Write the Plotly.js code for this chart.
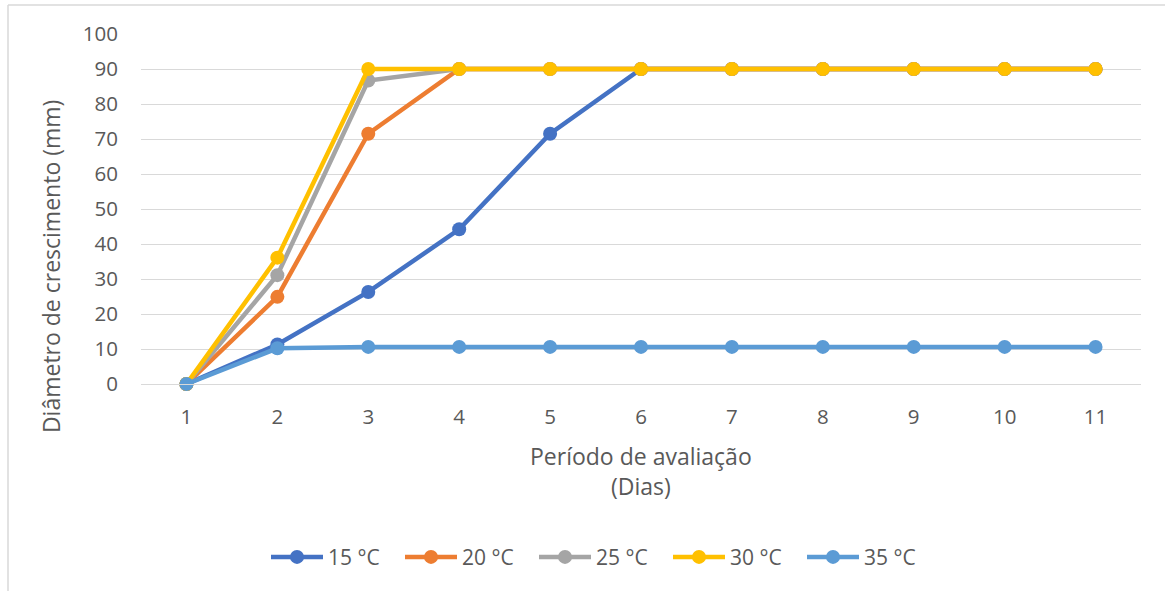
<!DOCTYPE html>
<html>
<head>
<meta charset="utf-8">
<script src="https://cdn.plot.ly/plotly-3.0.1.min.js"></script>
<style>
  html, body { margin: 0; padding: 0; background: #fff; }
  #chart { width: 1165px; height: 591px; }
</style>
</head>
<body>
<div id="chart"></div>
<script>
// Evaluation period (days)
const dias = [1, 2, 3, 4, 5, 6, 7, 8, 9, 10, 11];

// Growth diameter (mm) per incubation temperature
const t15 = [0, 11.3, 26.3, 44.2, 71.5, 90, 90, 90, 90, 90, 90];
const t20 = [0, 24.9, 71.5, 90, 90, 90, 90, 90, 90, 90, 90];
const t25 = [0, 31.1, 86.7, 90, 90, 90, 90, 90, 90, 90, 90];
const t30 = [0, 36.1, 90, 90, 90, 90, 90, 90, 90, 90, 90];
const t35 = [0, 10.2, 10.6, 10.6, 10.6, 10.6, 10.6, 10.6, 10.6, 10.6, 10.6];

const seriesNames = ['15 °C', '20 °C', '25 °C', '30 °C', '35 °C'];
const seriesValues = [t15, t20, t25, t30, t35];
const seriesColors = ['#4472C4', '#ED7D31', '#A5A5A5', '#FFC000', '#5B9BD5'];

const yTicks = [0, 10, 20, 30, 40, 50, 60, 70, 80, 90, 100];

const xTitle = 'Período de avaliação<br>(Dias)';
const yTitle = 'Diâmetro de crescimento (mm)';

const FONT = '"Open Sans", "Noto Sans", sans-serif';
const TXT = '#595959';

const traces = seriesNames.map((name, i) => ({
  type: 'scatter',
  mode: 'lines+markers',
  name: name,
  x: dias,
  y: seriesValues[i],
  line: { color: seriesColors[i], width: 4.5 },
  marker: { color: seriesColors[i], size: 14 },
  cliponaxis: false
}));

const layout = {
  width: 1165,
  height: 591,
  paper_bgcolor: '#ffffff',
  plot_bgcolor: '#ffffff',
  margin: { l: 141, r: 24, t: 34, b: 207 },
  font: { family: FONT, color: TXT, size: 20 },
  showlegend: true,
  legend: {
    orientation: 'h',
    x: 0.46, xanchor: 'center',
    y: -0.495, yanchor: 'middle',
    font: { family: FONT, size: 21, color: TXT },
    itemwidth: 52,
    entrywidth: 67,
    tracegroupgap: 0
  },
  xaxis: {
    type: 'linear',
    range: [0.5, 11.5],
    tickvals: dias,
    ticktext: dias.map(String),
    showgrid: false,
    zeroline: false,
    showline: true,
    linecolor: '#d9d9d9',
    linewidth: 1,
    ticks: '',
    ticklabelstandoff: 14,
    tickfont: { family: FONT, size: 20.5, color: TXT },
    fixedrange: true
  },
  yaxis: {
    range: [0, 100],
    tickvals: yTicks,
    ticktext: yTicks.map(String),
    showgrid: true,
    gridcolor: '#d9d9d9',
    gridwidth: 1,
    zeroline: false,
    showline: false,
    ticks: '',
    ticklabelstandoff: 22,
    tickfont: { family: FONT, size: 20.5, color: TXT },
    fixedrange: true
  },
  annotations: [
    { text: xTitle, xref: 'paper', yref: 'paper', x: 0.5, y: -0.249,
      xanchor: 'center', yanchor: 'middle', showarrow: false,
      font: { family: FONT, size: 23, color: TXT } },
    { text: yTitle, xref: 'paper', yref: 'paper', x: -0.09, y: 0.334,
      xanchor: 'center', yanchor: 'middle', textangle: -90, showarrow: false,
      font: { family: FONT, size: 23, color: TXT } }
  ],
  shapes: [
    // outer chart frame (top and left edges)
    { type: 'line', xref: 'paper', yref: 'paper', x0: -0.133, x1: 1.03, y0: 1.083, y1: 1.083,
      line: { color: '#d9d9d9', width: 1.5 } },
    { type: 'line', xref: 'paper', yref: 'paper', x0: -0.133, x1: -0.133, y0: 1.083, y1: -0.6,
      line: { color: '#d9d9d9', width: 1.5 } }
  ]
};

Plotly.newPlot('chart', traces, layout, { displayModeBar: false, staticPlot: true });
</script>
</body>
</html>
